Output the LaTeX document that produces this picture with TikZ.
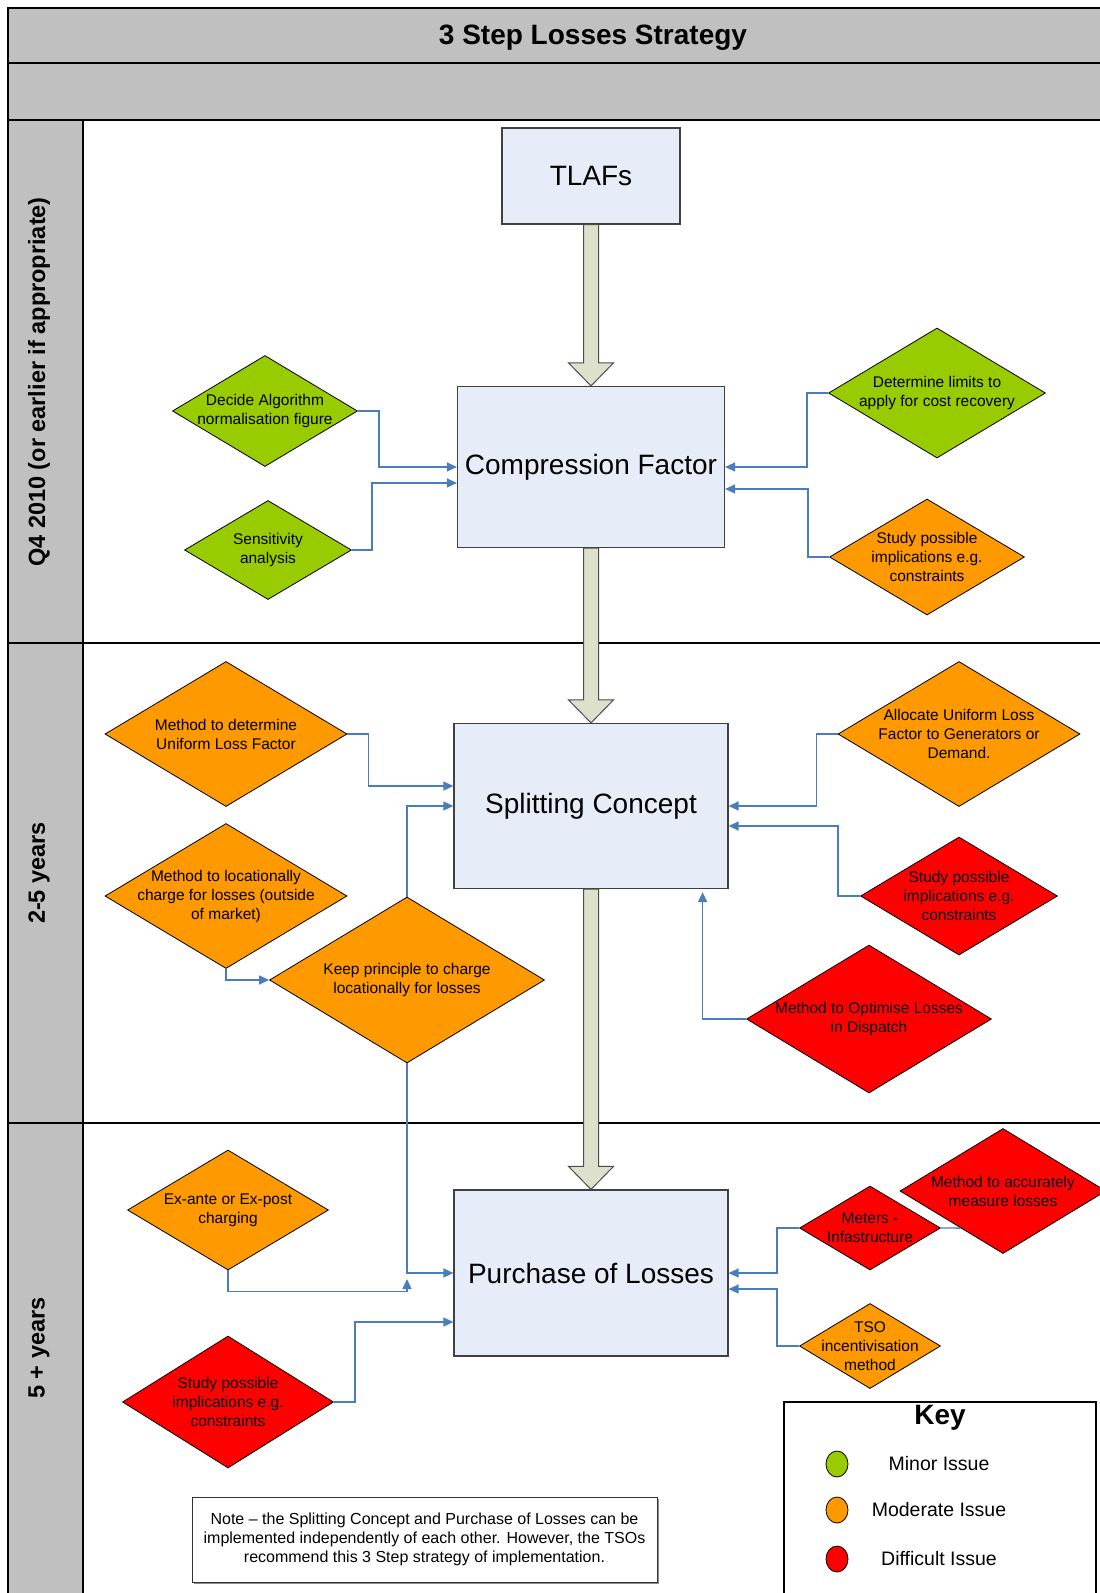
\documentclass[tikz,border=0pt]{standalone}
\usepackage{fontspec}
\setmainfont{Liberation Sans}
\usetikzlibrary{shapes.geometric,arrows.meta,calc,shadows}

\definecolor{minor}{RGB}{153,204,0}
\definecolor{moderate}{RGB}{255,153,0}
\definecolor{difficult}{RGB}{255,0,0}
\definecolor{lanegrey}{RGB}{192,192,192}
\definecolor{stagefill}{RGB}{230,237,248}
\definecolor{flowfill}{RGB}{221,225,203}
\definecolor{linkblue}{RGB}{74,126,187}

\begin{document}
\begin{tikzpicture}[x=1pt, y=-1pt,
    stage/.style = {draw=black!75, line width=1.2pt, fill=stagefill,
        font=\fontsize{28}{32}\selectfont},
    issue/.style = {diamond, draw=black, line width=0.8pt, inner sep=0pt},
    itext/.style = {align=center, font=\fontsize{15.5}{19}\selectfont},
    link/.style = {draw=linkblue, line width=1.3pt,
        -{Triangle[length=10pt, width=9pt]}},
    flow/.style = {draw=black!70, line width=1pt, fill=flowfill},
    lanetitle/.style = {rotate=90, font=\bfseries\fontsize{23.5}{28}\selectfont},
    keydot/.style = {ellipse, draw=black, line width=0.8pt, inner sep=0pt,
        minimum width=22pt, minimum height=26pt},
    keytext/.style = {font=\fontsize{19.5}{23}\selectfont}]
\useasboundingbox (0,0) rectangle (1100,1593);
\clip (0,0) rectangle (1100,1593);
\fill[white] (0,0) rectangle (1100,1593);

% swimlane frame
\fill[lanegrey] (8,8) rectangle (1110,120);
\fill[lanegrey] (8,120) rectangle (83,1610);
\draw[line width=1.6pt] (8,1610) -- (8,8) -- (1110,8);
\draw[line width=1.2pt] (8,63) -- (1110,63);
\draw[line width=1.2pt] (8,120) -- (1110,120);
\draw[line width=1.2pt] (8,643) -- (1110,643);
\draw[line width=1.2pt] (8,1123) -- (1110,1123);
\draw[line width=1.2pt] (83,120) -- (83,1610);

\node[font=\bfseries\fontsize{28}{32}\selectfont] (title) at (593,38) {3 Step Losses Strategy};
\node[lanetitle] (lane1) at (39,382) {Q4 2010 (or earlier if appropriate)};
\node[lanetitle] (lane2) at (39,873) {2-5 years};
\node[lanetitle] (lane3) at (39,1348) {5 + years};

% main steps
\node[stage, minimum width=178pt, minimum height=96pt] (tlafs) at (591,176) {TLAFs};
\node[stage, minimum width=267pt, minimum height=161pt] (comp) at (591,467) {Compression Factor};
\node[stage, minimum width=274pt, minimum height=165pt] (split) at (591,806) {Splitting Concept};
\node[stage, minimum width=274pt, minimum height=166pt] (purch) at (591,1273) {Purchase of Losses};

% issues, lane 1
\node[issue, fill=minor, minimum width=185pt, minimum height=111pt,
    label={[itext]center:Decide Algorithm\\normalisation figure}] (algo) at (265,411) {};
\node[issue, fill=minor, minimum width=167pt, minimum height=99pt,
    label={[itext]center:Sensitivity\\analysis}] (sens) at (268,550) {};
\node[issue, fill=minor, minimum width=217pt, minimum height=130pt,
    label={[itext]center:Determine limits to\\apply for cost recovery}] (limits) at (937,393) {};
\node[issue, fill=moderate, minimum width=195pt, minimum height=116pt,
    label={[itext]center:Study possible\\implications e.g.\\constraints}] (impA) at (927,557) {};

% issues, lane 2
\node[issue, fill=moderate, minimum width=242pt, minimum height=145pt,
    label={[itext]center:Method to determine\\Uniform Loss Factor}] (ulf) at (226,734) {};
\node[issue, fill=moderate, minimum width=242pt, minimum height=145pt,
    label={[itext]center:Method to locationally\\charge for losses (outside\\of market)}] (loccharge) at (226,896) {};
\node[issue, fill=moderate, minimum width=275pt, minimum height=166pt,
    label={[itext]center:Keep principle to charge\\locationally for losses}] (keep) at (407,980) {};
\node[issue, fill=moderate, minimum width=242pt, minimum height=145pt,
    label={[itext]center:Allocate Uniform Loss\\Factor to Generators or\\Demand.}] (alloc) at (959,734) {};
\node[issue, fill=difficult, minimum width=197pt, minimum height=118pt,
    label={[itext]center:Study possible\\implications e.g.\\constraints}] (impB) at (959,896) {};
\node[issue, fill=difficult, minimum width=245pt, minimum height=148pt,
    label={[itext]center:Method to Optimise Losses\\in Dispatch}] (optim) at (869,1019) {};

% issues, lane 3
\node[issue, fill=moderate, minimum width=201pt, minimum height=120pt,
    label={[itext]center:Ex-ante or Ex-post\\charging}] (exante) at (228,1210) {};
\node[issue, fill=difficult, minimum width=211pt, minimum height=132pt,
    label={[itext]center:Study possible\\implications e.g.\\constraints}] (impC) at (228,1402) {};
\node[issue, fill=difficult, minimum width=141pt, minimum height=84pt,
    label={[itext]center:Meters -\\Infastructure}] (meters) at (870,1228) {};
\node[issue, fill=difficult, minimum width=206pt, minimum height=125pt,
    label={[itext]center:Method to accurately\\measure losses}] (measure) at (1003,1191) {};
\node[issue, fill=moderate, minimum width=141pt, minimum height=85pt,
    label={[itext]center:TSO\\incentivisation\\method}] (tso) at (870,1346) {};

% connectors
\draw[link] (algo.east) -- ++(21,0) |- (comp.west);
\draw[link] (sens.east) -- ++(20,0) |- ($(comp.west)+(0,16)$);
\draw[link] (limits.west) -- ++(-21,0) |- (comp.east);
\draw[link] (impA.west) -- ++(-21,0) |- ($(comp.east)+(0,22)$);

\draw[link] (ulf.east) -- ++(21,0) |- ($(split.west)+(0,-20)$);
\draw[link] (keep.north) |- (split.west);
\draw[link] (loccharge.south) |- (keep.west);
\draw[link] (alloc.west) -- ++(-21,0) |- (split.east);
\draw[link] (impB.west) -- ++(-22,0) |- ($(split.east)+(0,20)$);
\draw[link] (optim.west) -| ($(split.south east)+(-26,3)$);

\coordinate (join) at ($(keep.south |- purch.west)+(0,6)$);
\draw[link] (keep.south) |- (purch.west);
\draw[link] (exante.south) -- ++(0,21) -| (join);
\draw[link] (impC.east) -- ++(21,0) |- ($(purch.west)+(0,49)$);
\draw[draw=linkblue, line width=1.3pt] ($(measure.west)!0.59!(measure.south)$) -- (meters.east);
\draw[link] (meters.west) -- ++(-22,0) |- (purch.east);
\draw[link] (tso.west) -- ++(-22,0) |- ($(purch.east)+(0,16)$);

% block arrows between steps
\foreach \a/\b in {tlafs/comp, comp/split, split/purch}
  \draw[flow] ($(\a.south)+(-7.5,0)$) -- ($(\b.north)+(-7.5,-23)$)
    -- ++(-15,0) -- (\b.north) -- ($(\b.north)+(22.5,-23)$) -- ++(-15,0)
    -- ($(\a.south)+(7.5,0)$) -- cycle;

% note
\node[draw=black!80, line width=0.8pt, fill=white, minimum width=465pt, minimum height=85pt,
    align=center, font=\fontsize{16}{19.3}\selectfont,
    drop shadow={shadow xshift=2pt, shadow yshift=-2pt, fill=black!45, opacity=1}]
    (note) at (424.5,1539.5) {Note -- the Splitting Concept and Purchase of Losses can be\\
    implemented independently of each other. However, the TSOs\\
    recommend this 3 Step strategy of implementation.};

% key
\draw[line width=2.5pt] (784,1610) -- (784,1402) -- (1096,1402) -- (1096,1610);
\node[font=\bfseries\fontsize{28}{32}\selectfont] (keyhead) at (940,1418) {Key};
\node[keydot, fill=minor] (kminor) at (837,1464) {};
\node[keydot, fill=moderate] (kmoderate) at (837,1510) {};
\node[keydot, fill=difficult] (kdifficult) at (837,1559) {};
\node[keytext] (tminor) at (939,1464) {Minor Issue};
\node[keytext] (tmoderate) at (939,1510) {Moderate Issue};
\node[keytext] (tdifficult) at (939,1559) {Difficult Issue};
\end{tikzpicture}
\end{document}
